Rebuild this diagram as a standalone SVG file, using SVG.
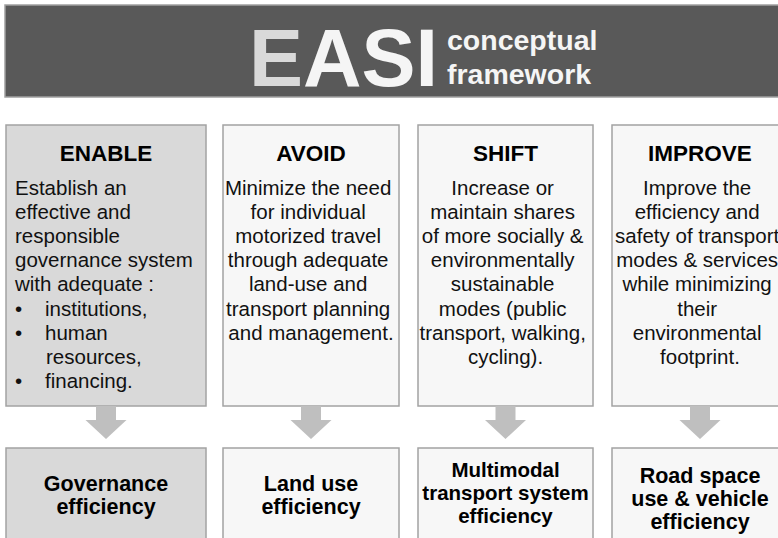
<svg xmlns="http://www.w3.org/2000/svg" width="778" height="538" viewBox="0 0 778 538">
<style>
.box{stroke:#a3a3a3;stroke-width:1.5}
.dark{fill:#d9d9d9}
.light{fill:#f7f7f7}
.h{font-family:"Liberation Sans",Arial,sans-serif;font-weight:bold;font-size:22.5px;fill:#000;text-anchor:middle}
.b{font-family:"Liberation Sans",Arial,sans-serif;font-size:20.5px;fill:#111}
.c{text-anchor:middle}
.o{font-family:"Liberation Sans",Arial,sans-serif;font-weight:bold;font-size:21.5px;fill:#000;text-anchor:middle}
.arrow{fill:#bfbfbf}
</style>
<rect width="778" height="538" fill="#ffffff"/>
<g id="header">
<rect x="5" y="5" width="790" height="92" fill="#595959" stroke="#a0a0a0" stroke-width="1.5"/>
<text x="249" y="86" font-family="Liberation Sans,Arial,sans-serif" font-weight="bold" font-size="81"><tspan fill="#d9d9d9">E</tspan><tspan fill="#f5f5f5">ASI</tspan></text>
<text x="447" y="50" font-family="Liberation Sans,Arial,sans-serif" font-weight="bold" font-size="28.5" fill="#f5f5f5">conceptual</text>
<text x="447" y="84" font-family="Liberation Sans,Arial,sans-serif" font-weight="bold" font-size="28.5" fill="#f5f5f5">framework</text>
</g>
<g id="enable">
<rect class="box dark" x="6" y="125" width="200" height="281"/>
<text class="h" x="106" y="161">ENABLE</text>
<text class="b">
<tspan x="15" y="195">Establish an</tspan>
<tspan x="15" y="219.1">effective and</tspan>
<tspan x="15" y="243.2">responsible</tspan>
<tspan x="15" y="267.3">governance system</tspan>
<tspan x="15" y="291.4">with adequate :</tspan>
<tspan x="15" y="315.5">•</tspan><tspan x="45" y="315.5">institutions,</tspan>
<tspan x="15" y="339.6">•</tspan><tspan x="45" y="339.6">human</tspan>
<tspan x="46" y="363.7">resources,</tspan>
<tspan x="15" y="387.8">•</tspan><tspan x="45" y="387.8">financing.</tspan>
</text>
</g>
<g id="avoid">
<rect class="box light" x="223" y="125" width="176" height="281"/>
<text class="h" x="311" y="161">AVOID</text>
<text class="b c">
<tspan x="311" y="195">Minimize the need</tspan>
<tspan x="311" y="219.1">for individual</tspan>
<tspan x="311" y="243.2">motorized travel</tspan>
<tspan x="311" y="267.3">through adequate</tspan>
<tspan x="311" y="291.4">land-use and</tspan>
<tspan x="311" y="315.5">transport planning</tspan>
<tspan x="311" y="339.6">and management.</tspan>
</text>
</g>
<g id="shift">
<rect class="box light" x="418" y="125" width="175" height="281"/>
<text class="h" x="505.5" y="161">SHIFT</text>
<text class="b c">
<tspan x="505.5" y="195">Increase or</tspan>
<tspan x="505.5" y="219.1">maintain shares</tspan>
<tspan x="505.5" y="243.2">of more socially &amp;</tspan>
<tspan x="505.5" y="267.3">environmentally</tspan>
<tspan x="505.5" y="291.4">sustainable</tspan>
<tspan x="505.5" y="315.5">modes (public</tspan>
<tspan x="505.5" y="339.6">transport, walking,</tspan>
<tspan x="505.5" y="363.7">cycling).</tspan>
</text>
</g>
<g id="improve">
<rect class="box light" x="612" y="125" width="176" height="281"/>
<text class="h" x="700" y="161">IMPROVE</text>
<text class="b c">
<tspan x="700" y="195">Improve the</tspan>
<tspan x="700" y="219.1">efficiency and</tspan>
<tspan x="700" y="243.2">safety of transport</tspan>
<tspan x="700" y="267.3">modes &amp; services</tspan>
<tspan x="700" y="291.4">while minimizing</tspan>
<tspan x="700" y="315.5">their</tspan>
<tspan x="700" y="339.6">environmental</tspan>
<tspan x="700" y="363.7">footprint.</tspan>
</text>
</g>
<g id="connectors">
<path class="arrow" d="M96,406 H116 V420 H126.5 L106,439 L85.5,420 H96 Z"/>
<path class="arrow" d="M301,406 H321 V420 H331.5 L311,439 L290.5,420 H301 Z"/>
<path class="arrow" d="M495.5,406 H515.5 V420 H526 L505.5,439 L485,420 H495.5 Z"/>
<path class="arrow" d="M690,406 H710 V420 H720.5 L700,439 L679.5,420 H690 Z"/>
</g>
<g id="governance">
<rect class="box dark" x="6" y="448" width="200" height="110"/>
<text class="o"><tspan x="106" y="491">Governance</tspan><tspan x="106" y="514">efficiency</tspan></text>
</g>
<g id="landuse">
<rect class="box light" x="223" y="448" width="176" height="110"/>
<text class="o"><tspan x="311" y="491">Land use</tspan><tspan x="311" y="514">efficiency</tspan></text>
</g>
<g id="multimodal">
<rect class="box light" x="418" y="448" width="175" height="110"/>
<text class="o" style="font-size:20.5px"><tspan x="505.5" y="477">Multimodal</tspan><tspan x="505.5" y="500">transport system</tspan><tspan x="505.5" y="523">efficiency</tspan></text>
</g>
<g id="roadspace">
<rect class="box light" x="612" y="448" width="176" height="110"/>
<text class="o"><tspan x="700" y="483">Road space</tspan><tspan x="700" y="506">use &amp; vehicle</tspan><tspan x="700" y="529">efficiency</tspan></text>
</g>
</svg>
